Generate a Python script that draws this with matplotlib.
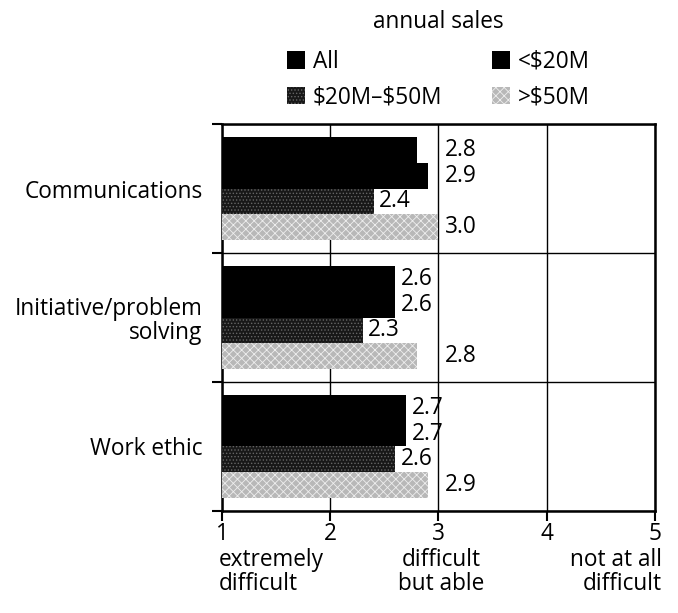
import numpy as np
import matplotlib.pyplot as plt
from matplotlib.patches import Patch

plt.rcParams['font.family'] = ['Open Sans', 'DejaVu Sans']
plt.rcParams['hatch.linewidth'] = 0.6

categories = ['Communications', 'Initiative/problem\nsolving', 'Work ethic']
series = ['All', '<\\$20M', '\\$20M\u2013\\$50M', '>\\$50M']
all_vals = [2.8, 2.6, 2.7]
lt20_vals = [2.9, 2.6, 2.7]
mid_vals = [2.4, 2.3, 2.6]
gt50_vals = [3.0, 2.8, 2.9]
scale_ticks = [1, 2, 3, 4, 5]
scale_words = ['extremely\ndifficult', 'difficult\nbut able', 'not at all\ndifficult']

styles = [
    dict(facecolor='black', edgecolor='black', hatch=None),
    dict(facecolor='black', edgecolor='black', hatch=None),
    dict(facecolor='#181818', edgecolor='#666666', hatch='.....'),
    dict(facecolor='#b8b8b8', edgecolor='#eeeeee', hatch='xxxx'),
]

fs = 16.3
fig = plt.figure(figsize=(6.78, 6.13), dpi=100)
ax = fig.add_axes([0.3274, 0.1664, 0.6387, 0.6313])

y = np.arange(len(categories))
bh = 0.2
for i, vals in enumerate([all_vals, lt20_vals, mid_vals, gt50_vals]):
    off = (i - 1.5) * bh
    vals = np.array(vals)
    ax.barh(y + off, vals - 1, left=1, height=bh, linewidth=0, zorder=3, **styles[i])
    for yy, v in zip(y + off, vals):
        lx = v + 0.05 if v < 2.75 else 3.06
        ax.text(lx, yy, f'{v:.1f}', ha='left', va='center', fontsize=fs, zorder=4)

ax.set_xlim(1, 5)
ax.set_ylim(2.5, -0.5)
ax.set_xticks(scale_ticks)
ax.set_xticklabels([str(t) for t in scale_ticks], fontsize=fs)
ax.set_yticks(y)
ax.set_yticklabels(categories, fontsize=fs, linespacing=1.0)
ax.set_yticks([-0.5, 0.5, 1.5, 2.5], minor=True)
ax.tick_params(axis='y', which='major', length=0, pad=14)
ax.tick_params(axis='y', which='minor', length=7, width=1.5, direction='out')
ax.tick_params(axis='x', which='major', length=7, width=1.5, direction='out', pad=1)
ax.grid(axis='x', which='major', color='black', linewidth=1.0, zorder=1)
ax.grid(axis='y', which='minor', color='black', linewidth=1.0, zorder=1)
for s in ax.spines.values():
    s.set_linewidth(1.8)

for x, word, ha, dx in zip([1, 3, 5], scale_words, ['left', 'center', 'right'], [-2, 2, 5]):
    ax.annotate(word, xy=(x, 0), xycoords=('data', 'axes fraction'),
                xytext=(dx, -27), textcoords='offset points', ha=ha, va='top',
                fontsize=fs, linespacing=0.95)

fig.text(0.646, 1 - 22 / 613, 'annual sales', ha='center', va='center', fontsize=fs)

leg_handles = [Patch(**styles[i], linewidth=0) for i in range(4)]
order = [0, 2, 1, 3]
ax.legend([leg_handles[i] for i in order], [series[i] for i in order], ncol=2,
          loc='lower center', bbox_to_anchor=(0.5, 1.0), frameon=False,
          fontsize=fs, handlelength=0.8, handleheight=0.8, handletextpad=0.35,
          columnspacing=2.2, labelspacing=0.5, borderaxespad=0.25)

fig.savefig('out.png', dpi=100)
